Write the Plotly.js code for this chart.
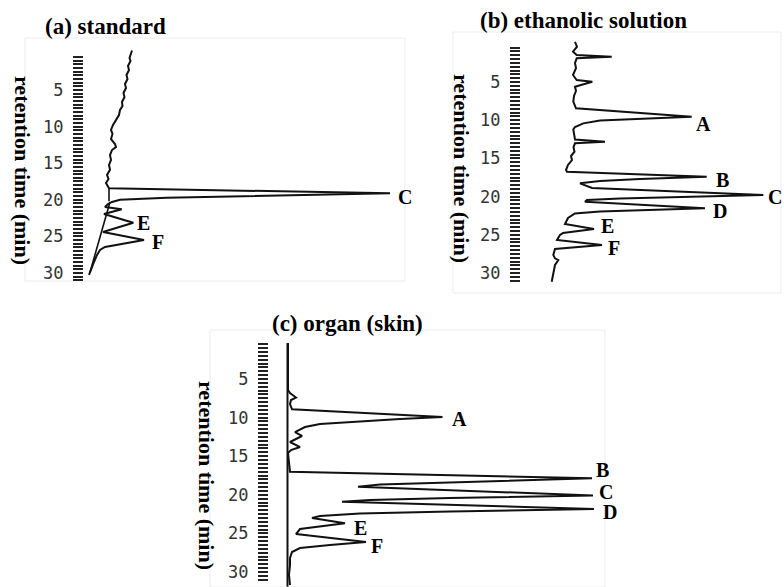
<!DOCTYPE html>
<html>
<head>
<meta charset="utf-8">
<script src="https://cdn.plot.ly/plotly-3.0.1.min.js"></script>
<style>html,body{margin:0;padding:0;background:#fff;}#chart{width:784px;height:587px;}</style>
</head>
<body>
<div id="chart"></div>
<script>
// ---------- DATA ----------
// retention time (min) and detector signal (arbitrary units) for each chromatogram
const timeA = [-0.4,0.08,0.63,1.04,1.72,2.27,2.95,3.5,4.18,4.73,5.41,5.96,6.64,7.19,7.73,8.42,9.1,9.78,10.46,11.0,11.7,12.38,12.8,13.2,13.9,14.55,15.25,15.9,16.6,17.16,17.7,18.43,19.11,19.44,19.71,20.0,20.3,20.57,20.98,21.3,21.94,23.13,24.4,25.49,26.04,26.45,26.86,27.54,28.5,29.18,29.86,30.27];
const signalA = [48,47,45.5,46.5,44,45,42.5,43.5,41,42,39.5,40.5,38,38.5,36,35,32,29,27,28.5,27,31,32,28,26,27,25,26,23,24.5,22,25,306,182.7,82.7,36,28,24,21,37.7,20,49.3,19,60,36,21,16,13,10,8,6,5];
const baseTimeA = [18.43,20.2,null,20.3,29.9];
const baseSignalA = [25,25,null,26,6];

const timeB = [-0.27,0.38,1.03,1.47,1.69,1.9,2.51,3.17,4.08,4.74,4.96,5.62,6.18,6.83,7.58,8.23,8.44,9.54,9.78,10.04,10.41,10.89,11.22,11.81,12.53,12.81,13.02,13.51,14.12,14.69,15.21,15.86,16.52,16.74,17.4,17.7,17.96,18.26,18.87,19.79,20.05,20.25,20.45,20.67,21.53,21.75,21.95,22.21,22.8,23.58,24.24,24.77,25.03,25.68,26.34,26.86,27.64,28.08,28.3,28.95,30.26,31.14];
const signalB = [54,56,52,55.7,90.7,55.7,54,55,52,55.7,71.3,54,55,53,52.3,54.7,55,170.7,119,79,62.3,54,52.3,53,54,84,54,52.5,53.5,50,51,47,45,46,185.7,119,79,59,71,242.3,159,99,66,64,184,119,79,54,47,44,73,42,39,36,81,34,32.3,34,37.3,34,32.3,30.7];

const timeC = [0.34,2.54,5.13,6.42,6.81,7.4,7.72,8.24,8.92,9.92,10.18,10.53,10.83,11.22,11.87,12.38,12.77,13.16,13.81,14.2,14.59,15.49,16.27,17.0,17.86,18.34,18.67,18.95,20.09,20.41,20.67,20.89,21.84,22.16,22.42,22.75,23.0,23.69,24.43,25.08,26.11,26.5,26.89,27.41,28.19,29.09,30.38,31.68];
const signalC = [19,19,18.5,19,21,27,22,21,23,173.5,131,86,51,36,26,33,27,21,31,22,19,19.5,20,21,323,181,111,89,324,181,101,73,325,181,91,51,43,76,31,27,97,61,31,23,21,21,20,21];
const baseTimeC = [0.34,31.9];
const baseSignalC = [18.5,18.5];

// peaks (name, retention time, signal at apex)
const peakNamesA = ['C','E','F'];
const peakTimesA = [19.11,23.13,25.49];
const peakHeightsA = [306,49.3,60];
const peakNamesB = ['A','B','C','D','E','F'];
const peakTimesB = [9.54,17.4,19.79,21.53,24.24,26.34];
const peakHeightsB = [170.7,185.7,242.3,184,73,81];
const peakNamesC = ['A','B','C','D','E','F'];
const peakTimesC = [9.92,17.86,20.09,21.84,23.69,26.11];
const peakHeightsC = [173.5,323,324,325,76,97];

const panelTitles = ['(a) standard','(b) ethanolic solution','(c) organ (skin)'];
const axisTitle = 'retention time (min)';
const tickLabelTimes = [5,10,15,20,25,30];
const tickLabels = ['5','10','15','20','25','30'];

// ---------- LAYOUT / STYLE ----------
const W = 784, H = 587;
const fx = p => p / W;
const fy = p => 1 - p / H;
// label offsets in px [dx, dy(down)]
const offA = [[7,4],[3,0],[7,2]];
const offB = [[3,7],[8,3],[4,2],[7,3],[6,-3],[5,3]];
const offC = [[8,2],[3,-8],[5,-4],[8,3],[8,5],[4,4]];

// tick marks every half minute
const tickVals = [], tickText = [];
for (let v = 0.5; v <= 31.001; v += 0.5) {
  const k = tickLabelTimes.indexOf(v);
  tickVals.push(v);
  tickText.push(k >= 0 ? tickLabels[k] : '');
}

function yAxis(domPx, rangeT, anchor) {
  return {
    domain: [fy(domPx[1]), fy(domPx[0])], range: rangeT, anchor: anchor,
    tickmode: 'array', tickvals: tickVals, ticktext: tickText,
    ticks: 'outside', ticklen: 10, tickwidth: 2, tickcolor: '#222',
    ticklabelstandoff: 6,
    tickfont: {family: 'DejaVu Sans Mono', size: 17, color: '#333'},
    showline: false, showgrid: false, zeroline: false, fixedrange: true
  };
}
function xAxis(domPx, rangeS, anchor) {
  return {domain: [fx(domPx[0]), fx(domPx[1])], range: rangeS, anchor: anchor,
    visible: false, showgrid: false, zeroline: false, fixedrange: true};
}

const lineStyle = {color: '#111', width: 2};
const traces = [
  {x: signalA, y: timeA, xaxis: 'x', yaxis: 'y', mode: 'lines', line: lineStyle},
  {x: baseSignalA, y: baseTimeA, xaxis: 'x', yaxis: 'y', mode: 'lines', line: {color: '#111', width: 1.6}},
  {x: signalB, y: timeB, xaxis: 'x2', yaxis: 'y2', mode: 'lines', line: lineStyle},
  {x: signalC, y: timeC, xaxis: 'x3', yaxis: 'y3', mode: 'lines', line: lineStyle},
  {x: baseSignalC, y: baseTimeC, xaxis: 'x3', yaxis: 'y3', mode: 'lines', line: {color: '#111', width: 2}}
];

const labelFont = {family: 'Liberation Serif', size: 20, color: '#000'};
const annotations = [];
function addPeakLabels(names, times, heights, offs, xr, yr) {
  names.forEach((n, i) => annotations.push({
    text: '<b>' + n + '</b>', x: heights[i], y: times[i], xref: xr, yref: yr,
    xanchor: 'left', yanchor: 'middle', showarrow: false, borderpad: 0,
    xshift: offs[i][0], yshift: -offs[i][1], font: labelFont
  }));
}
addPeakLabels(peakNamesA, peakTimesA, peakHeightsA, offA, 'x', 'y');
addPeakLabels(peakNamesB, peakTimesB, peakHeightsB, offB, 'x2', 'y2');
addPeakLabels(peakNamesC, peakTimesC, peakHeightsC, offC, 'x3', 'y3');

const titleFont = {family: 'Liberation Serif', size: 23, color: '#000'};
const titlePos = [[105,26],[583,20],[347,323]];
panelTitles.forEach((t, i) => annotations.push({
  text: '<b>' + t + '</b>', xref: 'paper', yref: 'paper',
  x: fx(titlePos[i][0]), y: fy(titlePos[i][1]), xanchor: 'center', yanchor: 'middle',
  showarrow: false, font: titleFont
}));
const axTitlePos = [[23,170],[462,168],[207,476]];
axTitlePos.forEach(p => annotations.push({
  text: '<b>' + axisTitle + '</b>', xref: 'paper', yref: 'paper',
  x: fx(p[0]), y: fy(p[1]), xanchor: 'center', yanchor: 'middle', textangle: 90,
  showarrow: false, font: {family: 'Liberation Serif', size: 22, color: '#000'}
}));

const boxes = [[25,38,405,281],[453,32,781,293],[210,330,605,587]];
const shapes = boxes.map(b => ({type: 'rect', xref: 'paper', yref: 'paper',
  x0: fx(b[0]), y0: fy(b[3]), x1: fx(b[2]), y1: fy(b[1]),
  line: {color: '#ececec', width: 1}, fillcolor: 'rgba(0,0,0,0)', layer: 'below'}));

const layout = {
  width: W, height: H, margin: {l: 0, r: 0, t: 0, b: 0},
  paper_bgcolor: '#fff', plot_bgcolor: 'rgba(0,0,0,0)', showlegend: false,
  xaxis: xAxis([84,420],[0,336],'y'),
  yaxis: yAxis([40,292],[32.6,-1.83],'x'),
  xaxis2: xAxis([521,784],[0,263],'y2'),
  yaxis2: yAxis([30,295],[32.88,-1.81],'x2'),
  xaxis3: xAxis([269,784],[0,515],'y3'),
  yaxis3: yAxis([335,587],[31.94,-0.70],'x3'),
  annotations: annotations, shapes: shapes
};

Plotly.newPlot('chart', traces, layout, {staticPlot: true, displayModeBar: false});
</script>
</body>
</html>
